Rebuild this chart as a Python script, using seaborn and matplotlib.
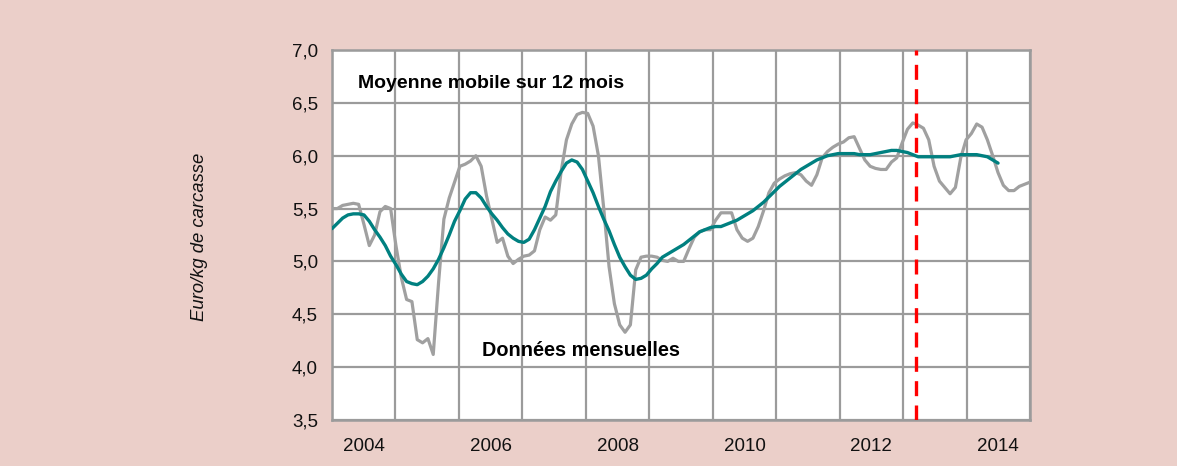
import numpy as np
import pandas as pd
import matplotlib
matplotlib.use("Agg")
import matplotlib.pyplot as plt
import seaborn as sns

# monthly price, Jan 2004 -> Dec 2014 (euro/kg carcass)
monthly = [
    5.50, 5.50, 5.53, 5.54, 5.55, 5.54, 5.35, 5.15, 5.25, 5.47, 5.52, 5.50,
    5.15, 4.85, 4.64, 4.62, 4.26, 4.23, 4.27, 4.12, 4.80, 5.40, 5.60, 5.75,
    5.90, 5.92, 5.95, 6.00, 5.90, 5.62, 5.40, 5.18, 5.22, 5.05, 4.98, 5.02,
    5.05, 5.06, 5.10, 5.30, 5.42, 5.39, 5.44, 5.85, 6.15, 6.30, 6.39, 6.41,
    6.40, 6.28, 6.00, 5.50, 4.95, 4.60, 4.40, 4.33, 4.40, 4.92, 5.04, 5.05,
    5.05, 5.04, 5.01, 5.00, 5.03, 5.00, 5.00, 5.12, 5.23, 5.28, 5.30, 5.30,
    5.39, 5.46, 5.46, 5.46, 5.30, 5.22, 5.19, 5.22, 5.33, 5.48, 5.65, 5.74,
    5.78, 5.81, 5.83, 5.84, 5.82, 5.76, 5.72, 5.82, 5.98, 6.04, 6.08, 6.11,
    6.13, 6.17, 6.18, 6.07, 5.96, 5.90, 5.88, 5.87, 5.87, 5.94, 5.98, 6.12,
    6.25, 6.31, 6.29, 6.26, 6.15, 5.90, 5.76, 5.70, 5.64, 5.70, 5.98, 6.15,
    6.21, 6.30, 6.27, 6.15, 6.00, 5.84, 5.72, 5.67, 5.67, 5.71, 5.73, 5.75,
]

# 12-month moving average, Jan 2004 -> Jun 2014
moving_avg = [
    5.31, 5.36, 5.41, 5.44, 5.45, 5.45, 5.44, 5.38, 5.30, 5.23, 5.15, 5.05,
    4.97, 4.88, 4.81, 4.79, 4.78, 4.81, 4.86, 4.93, 5.02, 5.13, 5.25, 5.38,
    5.48, 5.59, 5.65, 5.65, 5.60, 5.52, 5.45, 5.39, 5.32, 5.26, 5.22, 5.19,
    5.18, 5.21, 5.30, 5.41, 5.52, 5.66, 5.76, 5.85, 5.93, 5.96, 5.94, 5.87,
    5.76, 5.65, 5.52, 5.40, 5.29, 5.16, 5.04, 4.95, 4.87, 4.83, 4.84, 4.87,
    4.93, 4.98, 5.04, 5.07, 5.10, 5.13, 5.16, 5.20, 5.24, 5.28, 5.30, 5.32,
    5.33, 5.33, 5.35, 5.37, 5.39, 5.42, 5.45, 5.48, 5.52, 5.56, 5.61, 5.66,
    5.71, 5.75, 5.79, 5.83, 5.87, 5.90, 5.93, 5.96, 5.98, 6.00, 6.01, 6.02,
    6.02, 6.02, 6.02, 6.01, 6.01, 6.01, 6.02, 6.03, 6.04, 6.05, 6.05, 6.04,
    6.03, 6.01, 5.99, 5.99, 5.99, 5.99, 5.99, 5.99, 5.99, 6.00, 6.01, 6.01,
    6.01, 6.01, 6.00, 5.99, 5.96, 5.93,
]

year_labels = ["2004", "2006", "2008", "2010", "2012", "2014"]
y_ticks = [3.5, 4.0, 4.5, 5.0, 5.5, 6.0, 6.5, 7.0]
marker_date = 2013.2  # red dashed reference line

x_start, x_end = 2004.0, 2015.0
step = (x_end - x_start) / (len(monthly) - 1)
df_m = pd.DataFrame({"t": x_start + np.arange(len(monthly)) * step, "v": monthly})
df_a = pd.DataFrame({"t": x_start + np.arange(len(moving_avg)) * step, "v": moving_avg})

sns.set_style("white")
plt.rcParams["font.family"] = ["Liberation Sans", "DejaVu Sans"]

bg = "#EBCFC9"
grid_c = "#9B9B9B"
fig = plt.figure(figsize=(11.77, 4.66), dpi=100, facecolor=bg)
ax = fig.add_axes([332 / 1177, 1 - 420 / 466, 698 / 1177, 370 / 466])
ax.set_facecolor("white")

sns.lineplot(data=df_m, x="t", y="v", ax=ax, color="#A0A0A0", linewidth=2.3, zorder=3)
sns.lineplot(data=df_a, x="t", y="v", ax=ax, color="#008080", linewidth=2.4, zorder=4)
ax.axvline(marker_date, color="#FF0000", linewidth=2.4, dashes=(4.5, 2.8), zorder=5)

ax.set_xlim(x_start, x_end)
ax.set_ylim(3.5, 7.0)
ax.set_xticks(np.arange(2004, 2016))
ax.set_xticklabels([])
ax.set_xticks([int(y) + 0.5 for y in year_labels], minor=True)
ax.set_xticklabels(year_labels, minor=True)
ax.set_yticks(y_ticks)
ax.set_yticklabels([f"{v:.1f}".replace(".", ",") for v in y_ticks])
ax.tick_params(which="both", length=0, labelsize=13.5, colors="#111111")
ax.tick_params(axis="x", which="minor", pad=13)
ax.tick_params(axis="y", pad=10)
ax.grid(True, which="major", color=grid_c, linewidth=1.6, zorder=1)
ax.set_axisbelow(True)
for s in ax.spines.values():
    s.set_color(grid_c)
    s.set_linewidth(1.8)
ax.set_xlabel("")
ax.set_ylabel("")

ax.text(2004.41, 6.68, "Moyenne mobile sur 12 mois", fontsize=14, fontweight="bold",
        ha="left", va="center", color="black", zorder=6)
ax.text(2007.93, 4.16, "Données mensuelles", fontsize=14.3, fontweight="bold",
        ha="center", va="center", color="black", zorder=6)
fig.text(200 / 1177, 1 - 237 / 466, "Euro/kg de carcasse", rotation=90, style="italic",
         fontsize=13.3, ha="center", va="center", color="#111111")

fig.savefig("out.png", dpi=100, facecolor=bg)
